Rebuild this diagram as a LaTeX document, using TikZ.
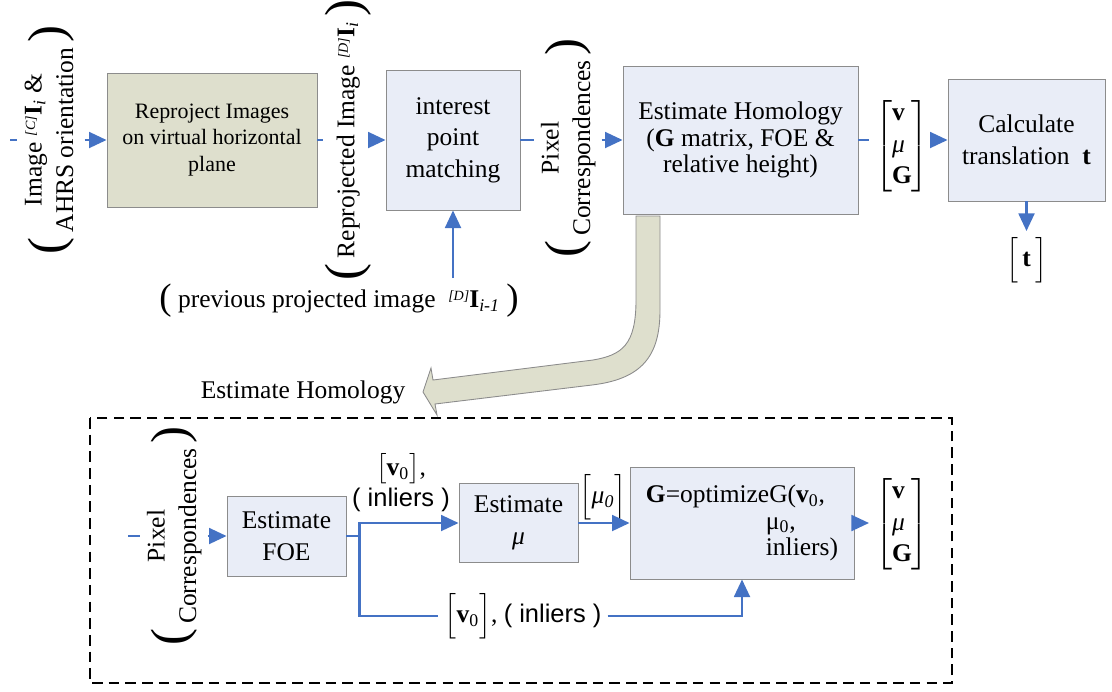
\documentclass[tikz,border=0pt]{standalone}
\usepackage{amsmath}
\usepackage{fontspec}
\setmainfont{Liberation Serif}
\setsansfont{Liberation Sans}
\usetikzlibrary{arrows.meta, positioning}
\definecolor{flowblue}{HTML}{4472C4}
\definecolor{boxblue}{HTML}{E9EDF7}
\definecolor{boxolive}{HTML}{DEDFCD}
\definecolor{boxedge}{HTML}{8C8C8C}

% frame-tagged image, e.g. [C]I_i
\newcommand{\frameimg}[2]{\raisebox{0.55ex}{\fontsize{8}{8}\selectfont\itshape[#1]}\textbf{I}\textsubscript{\itshape #2}}
% large round bracket around a side label
\newcommand{\bigpar}[2][29]{$\vcenter{\hbox{\fontsize{#1}{#1}\selectfont #2}}$}
\newcommand{\stacklines}[1]{$\vcenter{\hbox{\begin{tabular}{@{}c@{}}#1\end{tabular}}}$}
\newcommand{\vecstack}[1]{$\left[\vcenter{\hbox{\begin{tabular}{@{}l@{}}#1\end{tabular}}}\right]$}

\begin{document}
\begin{tikzpicture}[x=0.02cm, y=-0.02cm,
  font=\fontsize{14.5}{18}\selectfont,
  box/.style={draw=boxedge, fill=boxblue, line width=0.5pt, align=center, inner sep=2pt},
  flow/.style={flowblue, line width=1.4pt},
  arr/.style={flow, -{Triangle[length=10pt, width=9pt]}},
  side/.style={rotate=90, inner sep=1pt},
  outline/.style={dash pattern=on 6pt off 3.5pt, line width=0.7pt}]
  \useasboundingbox (0,0) rectangle (1112,691);

  % pipeline boxes
  \node[box, fill=boxolive, minimum width=4.2cm, minimum height=2.68cm,
        font=\fontsize{12.5}{15}\selectfont] (reproj) at (212,140)
        {Reproject Images\\on virtual horizontal\\plane};
  \node[box, minimum width=2.68cm, minimum height=2.8cm] (match) at (453,140)
        {interest\\point\\matching};
  \node[box, minimum width=4.7cm, minimum height=2.96cm,
        font=\fontsize{14.5}{15.2}\selectfont] (homog) at (740.5,140)
        {Estimate Homology\\(\textbf{G} matrix, FOE \&\\relative height)};
  \node[box, minimum width=3.14cm, minimum height=2.44cm] (transl) at (1026.5,140)
        {Calculate\\translation\ \ \textbf{t}};

  % side labels
  \coordinate (inImg) at (10,140);
  \node[side] (imgLbl) at (51,140)
        {\bigpar{(}\hspace{3pt}\stacklines{Image \frameimg{C}{i} \&\\AHRS orientation}\hspace{3pt}\bigpar{)}};
  \node[side] (reprLbl) at (348,140)
        {\bigpar{(}\hspace{3pt}\stacklines{Reprojected Image\ \frameimg{D}{i}}\hspace{3pt}\bigpar{)}};
  \node[side] (pixLbl) at (568,148)
        {\bigpar{(}\hspace{3pt}\stacklines{Pixel\\Correspondences}\hspace{3pt}\bigpar{)}};
  \node (prevLbl) at (339,301)
        {\bigpar[21]{(}\ previous projected image\ \ \frameimg{D}{i-1}\ \bigpar[21]{)}};
  \node (topVec) at (902,146) {\vecstack{\textbf{v}\\\textit{μ}\\\textbf{G}}};
  \node (tVec) at (1026.5,260) {$\Big[$\,\textbf{t}\,$\Big]$};

  % top connectors
  \draw[flow] (inImg) -- (imgLbl);
  \draw[arr] (imgLbl) -- (reproj);
  \draw[flow] (reproj) -- (reprLbl);
  \draw[arr] (reprLbl) -- (match);
  \draw[flow] (match.east) -- (match.east -| pixLbl.north);
  \draw[arr] (homog.west -| pixLbl.south) -- (homog.west);
  \draw[flow] (homog.east) -- (homog.east -| topVec.west);
  \draw[arr] (transl.west -| topVec.east) -- (transl.west);
  \draw[arr] (transl.south) -- (tVec.north);
  \draw[arr] (match.south |- prevLbl.north) -- (match.south);

  % bent arrow down to the detail
  \draw[boxedge, fill=boxolive, line width=0.5pt]
    (636,216) -- (636,300) .. controls (636,345) and (622,355) .. (593,360)
    -- (433,380) -- (431,368) -- (423,392) -- (437,415) -- (435,404)
    -- (592,385) .. controls (642,379) and (660,356) .. (660,310) -- (660,216) -- cycle;
  \node (ehLbl) at (303,392) {Estimate Homology};
  \draw[outline] (90,418) rectangle (952,683);

  % detail: homology estimation
  \coordinate (inPix) at (128,536);
  \node[side] (pixLbl2) at (174,536)
        {\bigpar{(}\hspace{3pt}\stacklines{Pixel\\Correspondences}\hspace{3pt}\bigpar{)}};
  \node[box, minimum width=2.38cm, minimum height=1.6cm] (foe) at (286.5,536) {Estimate\\FOE};
  \node[box, minimum width=2.38cm, minimum height=1.58cm] (estMu) at (518.5,523) {Estimate\\\textit{μ}};
  \node[box, minimum width=4.48cm, minimum height=2.24cm, align=left,
        font=\fontsize{14.5}{15.2}\selectfont] (optG) at (742,523)
        {\textbf{G}=optimizeG(\textbf{v}\textsubscript{0},\\\hspace*{2.4cm}μ\textsubscript{0},\\\hspace*{2.4cm}inliers)};
  \node (outVec) at (902,524) {\vecstack{\textbf{v}\\\textit{μ}\\\textbf{G}}};
  \node[align=center] (v0Lbl) at (401,483)
        {$\big[$\textbf{v}\textsubscript{0}$\big]$,\\{\sffamily ( inliers )}};
  \node (mu0Lbl) at (603,497) {$\Big[$\textit{μ\textsubscript{0}}$\Big]$};
  \node (v0Low) at (523,616) {$\Big[$\textbf{v}\textsubscript{0}$\Big]$, {\sffamily ( inliers )}};

  \draw[flow] (inPix) -- (pixLbl2);
  \draw[arr] (pixLbl2) -- (foe);
  \draw[flow] (foe.east) -- ++(13,0) coordinate (split);
  \draw[arr] (split) |- (estMu.west);
  \draw[flow] (split) |- (v0Low.west);
  \draw[arr] (v0Low.east) -| (optG.south);
  \draw[arr] (estMu) -- (optG);
  \draw[arr] (optG.east) -- (optG.east -| outVec.west);
\end{tikzpicture}
\end{document}
